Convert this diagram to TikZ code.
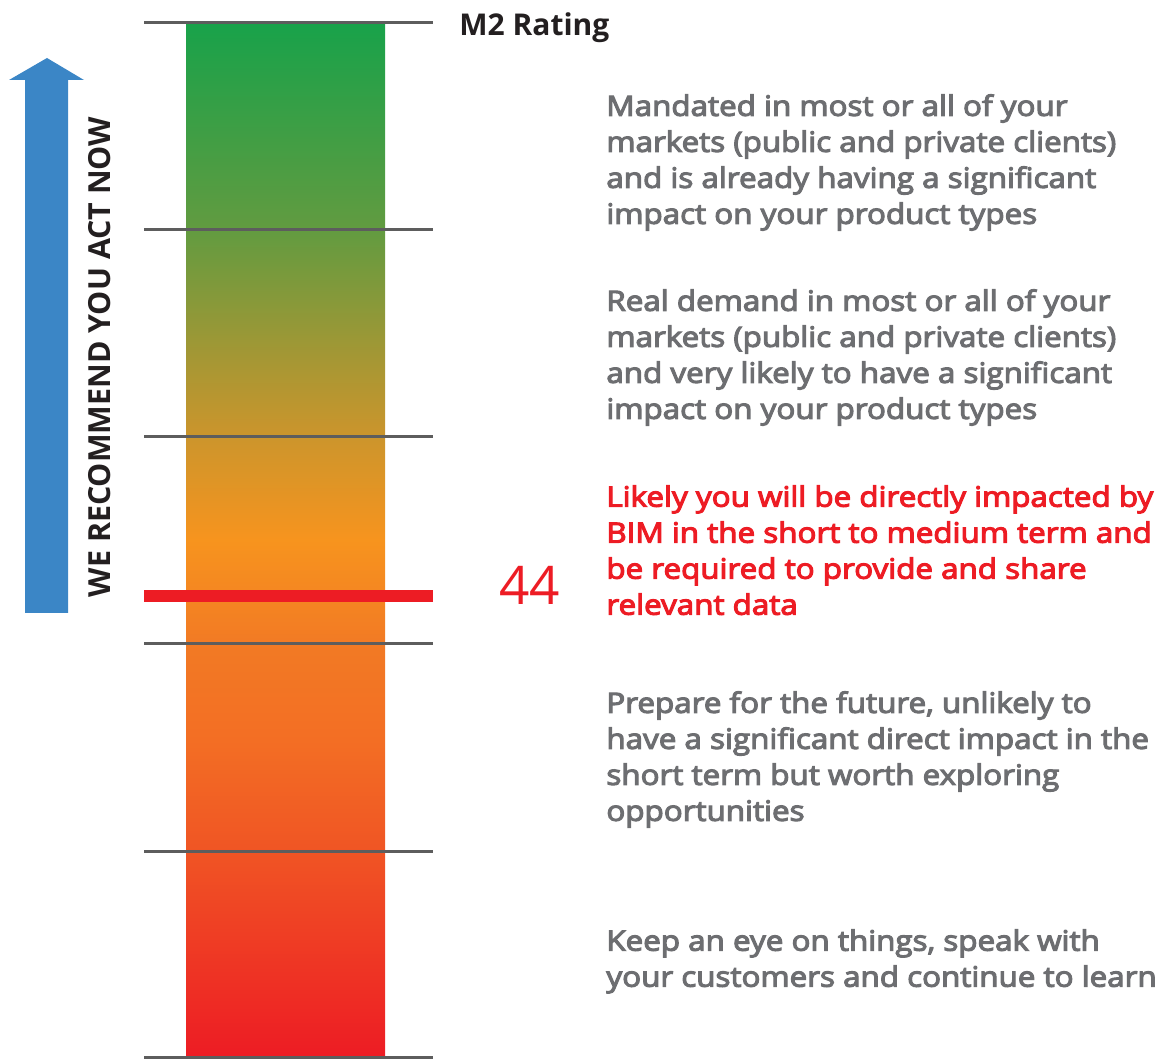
\documentclass[tikz,border=0pt]{standalone}
\usepackage{fontspec}
\setmainfont{Open Sans}
\newfontfamily\semifont[FakeBold=4, FakeStretch=1.12]{Open Sans}
\usetikzlibrary{positioning}
\definecolor{bargreen}{RGB}{24,162,74}
\definecolor{barolive}{RGB}{98,155,64}
\definecolor{barkhaki}{RGB}{150,152,55}
\definecolor{bargold}{RGB}{204,149,44}
\definecolor{barorange}{RGB}{247,148,30}
\definecolor{barcarrot}{RGB}{242,122,36}
\definecolor{barpumpkin}{RGB}{243,110,36}
\definecolor{barvermil}{RGB}{240,85,36}
\definecolor{barred}{RGB}{237,28,36}
\definecolor{rulegray}{HTML}{5D5D5D}
\definecolor{textgray}{HTML}{6D6E71}
\definecolor{inkdark}{HTML}{231F20}
\definecolor{arrowblue}{HTML}{3B86C6}
\pgfdeclareverticalshading{ratingbar}{100bp}{%
  color(0bp)=(barred); color(25bp)=(barred);
  color(35bp)=(barvermil); color(40.3bp)=(barpumpkin);
  color(45bp)=(barcarrot); color(50bp)=(barorange);
  color(55bp)=(bargold); color(60.2bp)=(barkhaki);
  color(65bp)=(barolive); color(75bp)=(bargreen); color(100bp)=(bargreen)}
\tikzset{
  gridline/.style={draw=rulegray, line width=1.5pt},
  scoreline/.style={draw=barred, line width=6pt},
  desc/.style={anchor=north west, inner sep=0pt, align=left, text=textgray,
    font=\semifont\fontsize{14}{18}\selectfont},
  hot/.style={desc, text=barred},
}

\begin{document}
\begin{tikzpicture}[x=0.5pt, y=-0.5pt]
        \useasboundingbox (0,0) rectangle (1164,1059);
        % the rating bar
        \shade[shading=ratingbar] (186,23) rectangle (385,1057);
        \foreach \y in {23,230,437,644,851,1057}
          \draw[gridline] (144,\y) -- (433,\y);
        \draw[scoreline] (144,596) -- (433,596);
        % arrow and its label
        \fill[arrowblue] (25,613) -- (68,613) -- (68,80) -- (84,80) -- (47,58)
          -- (9,80) -- (25,80) -- cycle;
        \node[rotate=90, font=\bfseries\fontsize{15.2}{18}\selectfont, text=inkdark, inner sep=0pt] (recommend) at (100,357) {WE RECOMMEND YOU ACT NOW};
        \node[anchor=base west, inner sep=0pt, font=\bfseries\fontsize{15}{18}\selectfont, text=inkdark] (rating) at (459,36) {M2 Rating};
        \node[anchor=base west, inner sep=0pt, font=\fontsize{26.6}{30}\selectfont, text=barred] (score) at (499,605) {44};
        % level descriptions
        \node[desc] (mandated) at (606,94) {Mandated in most or all of your\\markets (public and private clients)\\and is already having a significant\\impact on your product types};
        \node[desc] (demand) at (606,289) {Real demand in most or all of your\\markets (public and private clients)\\and very likely to have a significant\\impact on your product types};
        \node[hot] (likely) at (606,485) {Likely you will be directly impacted by\\BIM in the short to medium term and\\be required to provide and share\\relevant data};
        \node[desc] (prepare) at (606,691) {Prepare for the future, unlikely to\\have a significant direct impact in the\\short term but worth exploring\\opportunities};
        \node[desc] (keep) at (606,929) {Keep an eye on things, speak with\\your customers and continue to learn};
      \end{tikzpicture}
\end{document}
